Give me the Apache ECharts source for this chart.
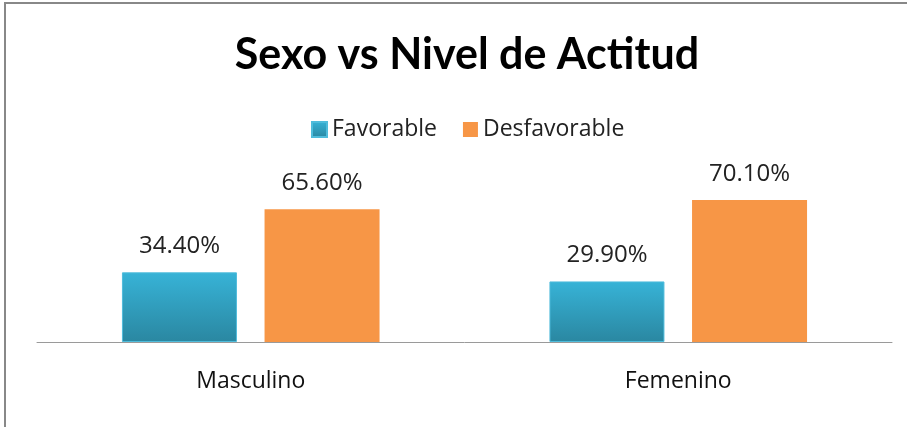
<!DOCTYPE html>
<html lang="es">
<head>
    <meta charset="UTF-8">
    <title>Sexo vs Nivel de Actitud</title>
    <style>
        html, body {margin: 0; padding: 0; background: #fff;}
    </style>
</head>
<body>
<div id="main" style="width: 907px;height: 427px"></div>
</body>
<script src="https://cdn.jsdelivr.net/npm/echarts@6/dist/echarts.min.js"></script>
<script>
    // datos del gráfico
    const categorias = ['Masculino', 'Femenino']
    const favorable = [34.4, 29.9]
    const desfavorable = [65.6, 70.1]

    const azul = new echarts.graphic.LinearGradient(0, 0, 0, 1, [
        {offset: 0, color: '#37b3d7'},
        {offset: 1, color: '#2a87a1'}
    ])

    let chart = echarts.init(document.getElementById('main'))
    let option = {
        backgroundColor: '#fff',
        animation: false,
        title: {
            text: 'Sexo vs Nivel de Actitud',
            left: 462,
            textAlign: 'center',
            top: 29,
            textStyle: {
                fontFamily: 'Lato',
                fontWeight: 'bold',
                fontSize: 43,
                color: '#000'
            }
        },
        legend: {
            top: 113,
            left: 306,
            itemWidth: 15,
            itemHeight: 15,
            itemGap: 26,
            itemTextGap: 6,
            icon: 'rect',
            textStyle: {
                fontFamily: 'Open Sans',
                fontSize: 23,
                color: '#222'
            },
            data: ['Favorable', 'Desfavorable']
        },
        grid: {
            left: 37,
            right: 15,
            top: 180,
            bottom: 85
        },
        xAxis: {
            type: 'category',
            data: categorias,
            axisLine: {lineStyle: {color: '#9a9a9a', width: 1}},
            axisTick: {show: false},
            axisLabel: {
                margin: 28,
                fontFamily: 'Open Sans',
                fontSize: 23,
                color: '#111'
            }
        },
        yAxis: {
            type: 'value',
            min: 0,
            max: 80,
            show: false
        },
        series: [
            {
                name: 'Favorable',
                type: 'bar',
                data: favorable,
                barWidth: 115,
                barGap: '24%',
                itemStyle: {color: azul, borderColor: '#4fbcdb', borderWidth: 1},
                label: {
                    show: true,
                    position: 'top',
                    distance: 14,
                    formatter: p => p.value.toFixed(2) + '%',
                    fontFamily: 'Open Sans',
                    fontSize: 24,
                    color: '#222'
                }
            },
            {
                name: 'Desfavorable',
                type: 'bar',
                data: desfavorable,
                barWidth: 115,
                itemStyle: {color: '#f79646'},
                label: {
                    show: true,
                    position: 'top',
                    distance: 14,
                    formatter: p => p.value.toFixed(2) + '%',
                    fontFamily: 'Open Sans',
                    fontSize: 24,
                    color: '#222'
                }
            }
        ],
        graphic: [
            {type: 'line', shape: {x1: 4, y1: 3, x2: 907, y2: 3}, style: {stroke: '#888', lineWidth: 2}},
            {type: 'line', shape: {x1: 5, y1: 3, x2: 5, y2: 427}, style: {stroke: '#888', lineWidth: 2}}
        ]
    }
    chart.setOption(option)
</script>
</html>
